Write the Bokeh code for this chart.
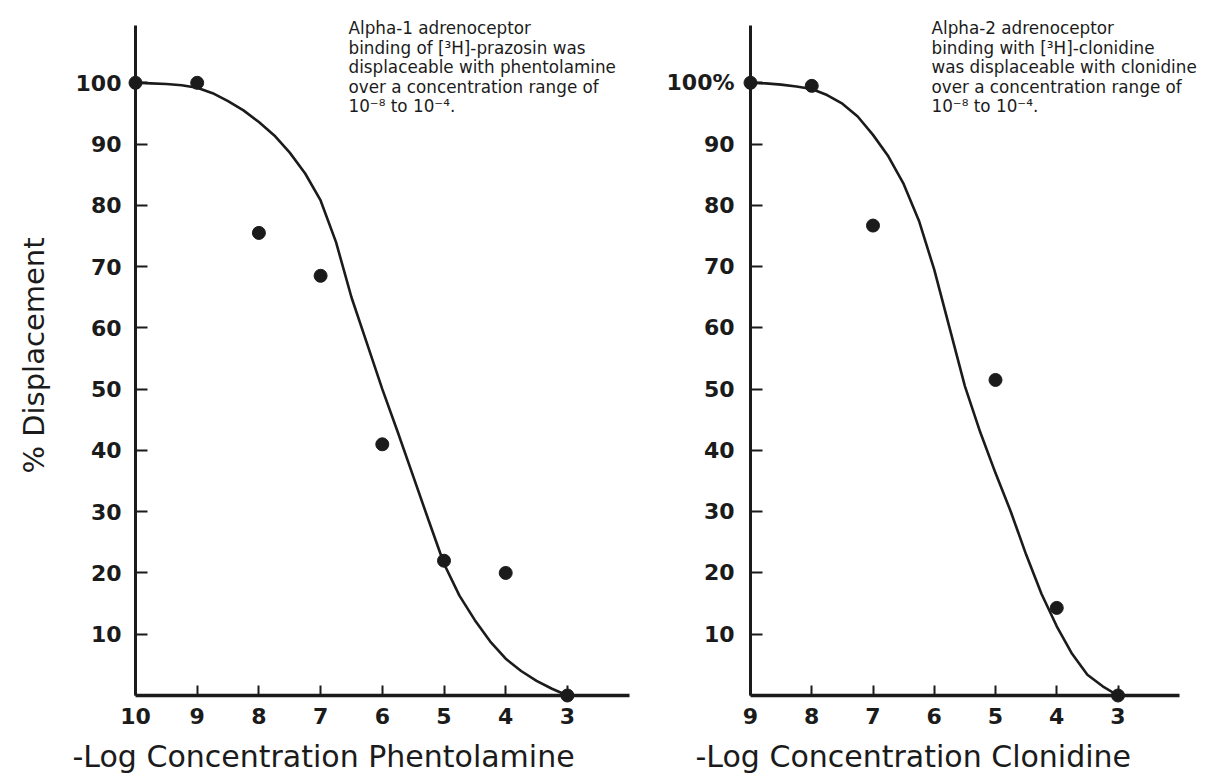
import math
from bokeh.plotting import figure
from bokeh.models import Range1d, FixedTicker, Label
from bokeh.layouts import row
from bokeh.embed import file_html
from bokeh.resources import INLINE

# ---------------- data ----------------
y_ticks = [10, 20, 30, 40, 50, 60, 70, 80, 90, 100]

phen_x_ticks = [10, 9, 8, 7, 6, 5, 4, 3]
phen_log = [10, 9, 8, 7, 6, 5, 4, 3]
phen_disp = [100, 100, 75.5, 68.5, 41, 22, 20, 0]
phen_curve_log = [10, 9.75, 9.5, 9.25, 9, 8.75, 8.5, 8.25, 8, 7.75, 7.5, 7.25, 7,
                  6.75, 6.5, 6.25, 6, 5.75, 5.5, 5.25, 5, 4.75, 4.5, 4.25, 4,
                  3.75, 3.5, 3.25, 3]
phen_curve_disp = [100, 99.9, 99.8, 99.6, 99.2, 98.3, 97.0, 95.5, 93.6, 91.4, 88.6,
                   85.2, 80.8, 74, 65, 57.5, 50, 43, 35.8, 28.6, 21.5, 16.3,
                   12.3, 8.8, 6.0, 4.0, 2.4, 1.1, 0]

clon_x_ticks = [9, 8, 7, 6, 5, 4, 3]
clon_log = [9, 8, 7, 5, 4, 3]
clon_disp = [100, 99.5, 76.7, 51.5, 14.3, 0]
clon_curve_log = [9, 8.75, 8.5, 8.25, 8, 7.75, 7.5, 7.25, 7, 6.75, 6.5, 6.25, 6,
                  5.75, 5.5, 5.25, 5, 4.75, 4.5, 4.25, 4, 3.75, 3.5, 3.25, 3]
clon_curve_disp = [100, 99.9, 99.7, 99.4, 99.0, 98.0, 96.6, 94.5, 91.5, 88, 83.5,
                   77.5, 69.5, 60, 50.5, 43, 36.3, 30, 23, 16.6, 11.3, 6.8, 3.4,
                   1.5, 0]

phen_note = ["Alpha-1 adrenoceptor",
             "binding of [\u00b3H]-prazosin was",
             "displaceable with phentolamine",
             "over a concentration range of",
             "10\u207b\u2078 to 10\u207b\u2074."]
clon_note = ["Alpha-2 adrenoceptor",
             "binding with [\u00b3H]-clonidine",
             "was displaceable with clonidine",
             "over a concentration range of",
             "10\u207b\u2078 to 10\u207b\u2074."]

phen_xlabel = "-Log Concentration Phentolamine"
clon_xlabel = "-Log Concentration Clonidine"
ylabel = "% Displacement"

# ---------------- styling / layout ----------------
INK = "#1b1b1b"
FONT = "DejaVu Sans"
H = 776
Y_ZERO_PX = 695.0      # page y of 0 %
Y_SCALE = 6.127        # px per % unit
Y_AXIS_TOP = 109.3


def make_panel(fig_left_px, width, origin_px, x_scale, x_axis_max, x_ticks,
               log, disp, clog, cdisp, note, note_px, xlabel, xlabel_px,
               y_override, y_standoff, with_ylabel):
    x_origin = x_ticks[0]

    def dx(px):
        return x_origin - (px - origin_px) / x_scale

    def dy(py):
        return (Y_ZERO_PX - py) / Y_SCALE

    p = figure(width=width, height=H, output_backend="svg", toolbar_location=None,
               x_range=Range1d(dx(fig_left_px), dx(fig_left_px + width)),
               y_range=Range1d(dy(H), dy(0)),
               min_border_left=0, min_border_right=0,
               min_border_top=0, min_border_bottom=0)
    p.outline_line_color = None
    p.grid.visible = False
    p.background_fill_color = "white"
    p.border_fill_color = "white"

    # axes (placed at data positions, inside the frame)
    xa = p.xaxis[0]
    xa.fixed_location = 0
    xa.bounds = (x_axis_max, x_origin)
    xa.ticker = FixedTicker(ticks=x_ticks)
    xa.axis_line_width = 3.5
    xa.axis_line_color = INK
    xa.major_tick_in = 10
    xa.major_tick_out = 0
    xa.major_tick_line_width = 2
    xa.major_tick_line_color = INK
    xa.minor_tick_line_color = None
    xa.major_label_text_font = FONT
    xa.major_label_text_font_style = "bold"
    xa.major_label_text_font_size = "22px"
    xa.major_label_text_color = INK
    xa.major_label_standoff = 12

    ya = p.yaxis[0]
    ya.fixed_location = x_origin
    ya.bounds = (0, Y_AXIS_TOP)
    ya.ticker = FixedTicker(ticks=y_ticks)
    ya.axis_line_width = 3
    ya.axis_line_color = INK
    ya.major_tick_in = 12
    ya.major_tick_out = 0
    ya.major_tick_line_width = 2
    ya.major_tick_line_color = INK
    ya.minor_tick_line_color = None
    ya.major_label_text_font = FONT
    ya.major_label_text_font_style = "bold"
    ya.major_label_text_font_size = "22px"
    ya.major_label_text_color = INK
    ya.major_label_standoff = y_standoff
    if y_override:
        ya.major_label_overrides = y_override

    # fitted curve and data points
    p.line(clog, cdisp, line_color=INK, line_width=2.6)
    p.scatter(log, disp, size=13, fill_color=INK, line_color=INK)

    # note text
    baselines = [27.5, 47, 66.5, 86, 105.5]
    for line, by in zip(note, baselines):
        p.add_layout(Label(x=dx(note_px), y=dy(by), text=line, text_font=FONT,
                           text_font_size="16.8px", text_color=INK,
                           text_align="left", text_baseline="alphabetic"))

    # x axis title
    p.add_layout(Label(x=dx(xlabel_px), y=dy(756), text=xlabel, text_font=FONT,
                       text_font_size="30px", text_color=INK,
                       text_align="left", text_baseline="alphabetic"))
    if with_ylabel:
        p.add_layout(Label(x=dx(33), y=dy(355), text=ylabel, text_font=FONT,
                           text_font_size="29px", text_color=INK, angle=math.pi / 2,
                           text_align="center", text_baseline="alphabetic"))
    return p


p1 = make_panel(0, 640, 135, 61.7, 2, phen_x_ticks,
                phen_log, phen_disp, phen_curve_log, phen_curve_disp,
                phen_note, 348, phen_xlabel, 72, None, 14, True)
p2 = make_panel(640, 578, 750, 61.25, 2, clon_x_ticks,
                clon_log, clon_disp, clon_curve_log, clon_curve_disp,
                clon_note, 931, clon_xlabel, 695, {100: "100%"}, 16, False)

layout = row(p1, p2)
open("out.html", "w").write(file_html(layout, INLINE))
